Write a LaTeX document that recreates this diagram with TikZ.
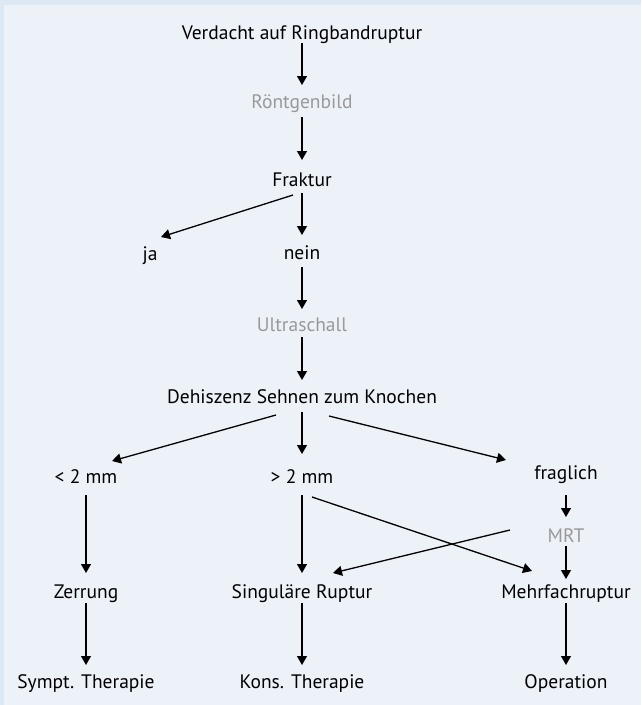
\documentclass[tikz,border=0pt]{standalone}
\usepackage{fontspec}
\setmainfont{PT Sans}
\usetikzlibrary{arrows.meta}
\definecolor{frameblue}{HTML}{DCE9F4}
\definecolor{innerblue}{HTML}{EDF2F9}
\definecolor{greytext}{HTML}{999999}
\tikzset{
  lbl/.style={inner sep=0pt, anchor=base, font=\fontsize{19.5}{23}\selectfont, text=black},
  glbl/.style={lbl, text=greytext},
  arr/.style={line width=1.3pt, -{Triangle[width=10pt,length=9pt]}},
}
\begin{document}
\begin{tikzpicture}[x=1pt,y=-1pt]
\useasboundingbox (0,0) rectangle (641,705);
\fill[frameblue] (0,0) rectangle (641,705);
\fill[innerblue] (4,5) rectangle (641,705);

\node[lbl]  (v)  at (302,39)  {Verdacht auf Ringbandruptur};
\node[glbl] (r)  at (302,108) {Röntgenbild};
\node[lbl]  (f)  at (302,186) {Fraktur};
\node[lbl]  (ja) at (150,260) {ja};
\node[lbl]  (n)  at (302,259) {nein};
\node[glbl] (u)  at (302,331) {Ultraschall};
\node[lbl]  (d)  at (302,403) {Dehiszenz Sehnen zum Knochen};
\node[lbl]  (lt) at (86,483)  {< 2 mm};
\node[lbl]  (gt) at (302,483) {> 2 mm};
\node[lbl]  (fr) at (566,479) {fraglich};
\node[glbl] (m)  at (566,542) {MRT};
\node[lbl]  (z)  at (86,598)  {Zerrung};
\node[lbl]  (s)  at (302,598) {Singuläre Ruptur};
\node[lbl]  (mf) at (566,598) {Mehrfachruptur};
\node[lbl]  (st) at (86,688)  {Sympt. Therapie};
\node[lbl]  (kt) at (302,688) {Kons. Therapie};
\node[lbl]  (op) at (566,688) {Operation};

\draw[arr] ([yshift=-4pt]v.base) -- ([yshift=23pt]r.base);
\draw[arr] ([yshift=-9pt]r.base) -- ([yshift=26pt]f.base);
\draw[arr] ([yshift=-7pt]f.base) -- ([yshift=24pt]n.base);
\draw[arr] ([xshift=-9pt,yshift=-9pt]f.base) -- ([xshift=11pt,yshift=23pt]ja.base);
\draw[arr] ([yshift=-8pt]n.base) -- ([yshift=22pt]u.base);
\draw[arr] ([yshift=-6pt]u.base) -- ([yshift=23pt]d.base);
\draw[arr] ([xshift=-26pt,yshift=-12pt]d.base) -- ([xshift=26pt,yshift=22pt]lt.base);
\draw[arr] ([yshift=-9pt]d.base) -- ([yshift=29pt]gt.base);
\draw[arr] ([xshift=27pt,yshift=-13pt]d.base) -- ([xshift=-60pt,yshift=19pt]fr.base);
\draw[arr] ([yshift=-16pt]fr.base) -- ([yshift=25pt]m.base);
\draw[arr] ([yshift=-4pt]m.base) -- ([yshift=19pt]mf.base);
\draw[arr] ([xshift=-56pt,yshift=12pt]m.base) -- ([xshift=31pt,yshift=25pt]s.base);
\draw[arr] ([xshift=10pt,yshift=-14pt]gt.base) -- ([xshift=-34pt,yshift=27pt]mf.base);
\draw[arr] ([yshift=-12pt]lt.base) -- ([yshift=25pt]z.base);
\draw[arr] ([yshift=-12pt]gt.base) -- ([yshift=25pt]s.base);
\draw[arr] ([yshift=-5pt]z.base) -- ([yshift=23pt]st.base);
\draw[arr] ([yshift=-5pt]s.base) -- ([yshift=23pt]kt.base);
\draw[arr] ([yshift=-5pt]mf.base) -- ([yshift=23pt]op.base);
\end{tikzpicture}
\end{document}
